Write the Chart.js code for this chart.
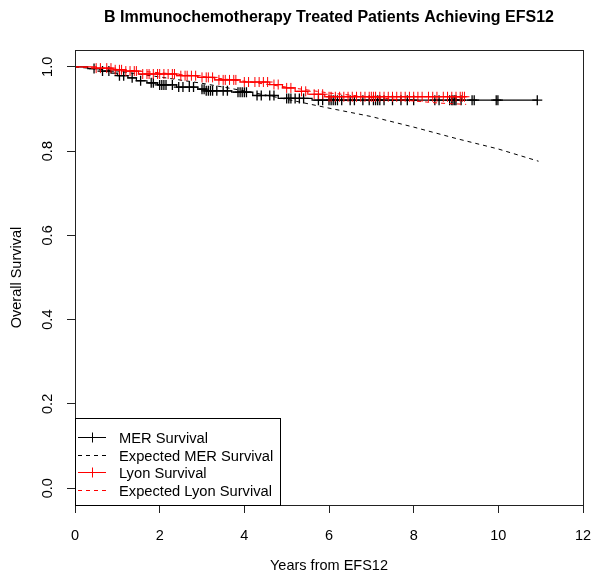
<!DOCTYPE html>
<html><head><meta charset="utf-8">
<script src="https://cdn.jsdelivr.net/npm/chart.js@4.4.1/dist/chart.umd.min.js"></script>
<style>html,body{margin:0;padding:0;background:#fff;} #wrap{width:602px;height:582px;position:relative;}</style>
</head><body><div id="wrap"><canvas id="c"></canvas></div>
<script>
const titleText = "B Immunochemotherapy Treated Patients Achieving EFS12";
const xTitle = "Years from EFS12";
const yTitle = "Overall Survival";
const xTicks = [0, 2, 4, 6, 8, 10, 12];
const yTicks = [0, 0.2, 0.4, 0.6, 0.8, 1.0];
const legendLabels = ["MER Survival", "Expected MER Survival", "Lyon Survival", "Expected Lyon Survival"];

// MER Kaplan-Meier (time of step, survival after step)
const merTime = [0, 0.3, 0.6, 0.85, 1.0, 1.25, 1.45, 1.7, 1.95, 2.4, 2.9, 3.1, 3.7, 4.2, 4.8, 5.6, 10.92];
const merSurv = [1.0, 0.996, 0.99, 0.985, 0.979, 0.974, 0.967, 0.962, 0.957, 0.952, 0.947, 0.943, 0.940, 0.932, 0.925, 0.921, 0.921];
const merCensor = [0.45, 0.65, 0.8, 1.05, 1.15, 1.35, 1.55, 1.8, 1.85, 2.0, 2.05, 2.1, 2.15, 2.3, 2.45, 2.55, 2.7, 2.8,
  3.0, 3.05, 3.1, 3.15, 3.2, 3.25, 3.35, 3.5, 3.6, 3.85, 3.9, 3.95, 4.0, 4.05, 4.3, 4.4, 4.6, 4.7, 5.0, 5.05, 5.1, 5.2, 5.3, 5.4,
  5.75, 5.85, 6.0, 6.05, 6.1, 6.15, 6.2, 6.3, 6.5, 6.6, 6.8, 6.95, 7.05, 7.1, 7.15, 7.2, 7.3, 7.5, 7.7, 7.85, 8.0, 8.5, 8.6,
  8.85, 8.9, 8.93, 8.97, 9.0, 9.12, 9.38, 9.43, 9.95, 9.99, 10.92];

// Lyon Kaplan-Meier
const lyonTime = [0, 0.5, 0.9, 1.2, 1.5, 2.4, 2.9, 3.3, 3.9, 4.6, 4.9, 5.2, 5.5, 5.9, 9.24];
const lyonSurv = [1.0, 0.997, 0.993, 0.99, 0.983, 0.979, 0.975, 0.969, 0.964, 0.958, 0.950, 0.942, 0.935, 0.929, 0.929];
const lyonCensor = [0.5, 0.6, 0.75, 0.85, 0.95, 1.05, 1.1, 1.2, 1.3, 1.4, 1.45, 1.6, 1.7, 1.75, 1.85, 1.95, 2.0, 2.1, 2.2,
  2.3, 2.35, 2.5, 2.6, 2.65, 2.75, 2.85, 3.0, 3.1, 3.15, 3.25, 3.4, 3.5, 3.55, 3.65, 3.75, 3.8, 4.0, 4.1, 4.25, 4.35, 4.45,
  4.55, 4.7, 4.8, 5.0, 5.1, 5.35, 5.45, 5.65, 5.75, 5.85, 6.0, 6.05, 6.15, 6.25, 6.35, 6.45, 6.55, 6.65, 6.75, 6.85, 6.95,
  7.0, 7.05, 7.1, 7.2, 7.3, 7.4, 7.5, 7.6, 7.7, 7.8, 7.9, 8.0, 8.1, 8.2, 8.35, 8.45, 8.55, 8.7, 8.8, 8.9, 9.0, 9.1, 9.15, 9.2];

// Expected survival curves
const expMerTime = [0, 1, 2, 3, 4, 5, 6, 7, 8, 9, 10, 10.95];
const expMerSurv = [1.0, 0.99, 0.976, 0.961, 0.943, 0.923, 0.902, 0.882, 0.857, 0.830, 0.805, 0.776];
const expLyonTime = [0, 1, 2, 3, 4, 5, 6, 7, 8, 8.6, 9.24];
const expLyonSurv = [1.0, 0.994, 0.986, 0.977, 0.966, 0.952, 0.938, 0.928, 0.919, 0.914, 0.911];

function survAt(times, survs, t) {
  let s = survs[0];
  for (let i = 0; i < times.length; i++) { if (times[i] <= t) s = survs[i]; }
  return s;
}
const pts = (xs, ys) => xs.map((x, i) => ({x: x, y: ys[i]}));
const cens = (cs, xs, ys) => cs.map(t => ({x: t, y: survAt(xs, ys, t)}));

const FONT = '"Liberation Sans", Arial, Helvetica, sans-serif';
const FS = 14.5;
Chart.defaults.font.family = FONT;
Chart.defaults.color = '#000';

const BLACK = '#000000', RED = '#ff0000', AXIS = '#222222';

const boxPlugin = {
  id: 'rbox',
  afterDraw(chart) {
    const ctx = chart.ctx, ca = chart.chartArea;
    ctx.save();
    ctx.strokeStyle = AXIS; ctx.lineWidth = 1;
    ctx.strokeRect(ca.left + 0.5, ca.top + 0.5, ca.right - ca.left, ca.bottom - ca.top);
    ctx.fillStyle = '#000';
    ctx.font = 'bold 16px ' + FONT;
    ctx.textAlign = 'center'; ctx.textBaseline = 'alphabetic';
    ctx.fillText(titleText, (ca.left + ca.right) / 2, 22);
    const bx = ca.left, bw = 205, bh = 87, by = ca.bottom - bh;
    ctx.fillStyle = '#fff';
    ctx.fillRect(bx + 1, by + 1, bw - 1, bh - 1);
    ctx.strokeStyle = '#000';
    ctx.strokeRect(bx + 0.5, by + 0.5, bw, bh);
    const colors = [BLACK, BLACK, RED, RED];
    const dashed = [false, true, false, true];
    ctx.font = '14.7px ' + FONT;
    ctx.textAlign = 'left';
    for (let i = 0; i < 4; i++) {
      const ry = Math.round(by + 19 + i * 17.6) + 0.5;
      ctx.strokeStyle = colors[i];
      ctx.lineWidth = 1;
      ctx.setLineDash(dashed[i] ? [4, 4] : []);
      ctx.beginPath(); ctx.moveTo(bx + 3, ry); ctx.lineTo(bx + 31, ry); ctx.stroke();
      ctx.setLineDash([]);
      if (!dashed[i]) {
        ctx.beginPath(); ctx.moveTo(bx + 17.5, ry - 5); ctx.lineTo(bx + 17.5, ry + 5); ctx.stroke();
      }
      ctx.fillStyle = '#000';
      ctx.fillText(legendLabels[i], bx + 44, ry + 5);
    }
    ctx.restore();
  }
};

new Chart(document.getElementById('c'), {
  type: 'scatter',
  data: {
    datasets: [
      {label: legendLabels[2], data: pts(lyonTime, lyonSurv), showLine: true, stepped: true, borderColor: RED, borderWidth: 1.2, pointRadius: 0, order: 0},
      {label: 'Lyon censored', data: cens(lyonCensor, lyonTime, lyonSurv), showLine: false, pointStyle: 'cross', pointRadius: 5, pointBorderWidth: 1, borderColor: RED, backgroundColor: RED, order: 1},
      {label: legendLabels[3], data: pts(expLyonTime, expLyonSurv), showLine: true, borderDash: [4, 4], borderColor: RED, borderWidth: 1, pointRadius: 0, tension: 0, order: 2},
      {label: legendLabels[0], data: pts(merTime, merSurv), showLine: true, stepped: true, borderColor: BLACK, borderWidth: 1.2, pointRadius: 0, order: 3},
      {label: 'MER censored', data: cens(merCensor, merTime, merSurv), showLine: false, pointStyle: 'cross', pointRadius: 5, pointBorderWidth: 1.3, borderColor: BLACK, backgroundColor: BLACK, order: 4},
      {label: legendLabels[1], data: pts(expMerTime, expMerSurv), showLine: true, borderDash: [4, 4], borderColor: BLACK, borderWidth: 1, pointRadius: 0, tension: 0, order: 5}
    ]
  },
  options: {
    responsive: true, maintainAspectRatio: false, animation: false, devicePixelRatio: 1,
    layout: {padding: {left: 0, right: 19, top: 50, bottom: 0}},
    plugins: {legend: {display: false}, tooltip: {enabled: false}, title: {display: false}},
    scales: {
      x: {
        type: 'linear', min: 0, max: 12,
        afterBuildTicks: s => { s.ticks = xTicks.map(v => ({value: v})); },
        ticks: {font: {size: FS}, color: '#000', padding: 14, maxRotation: 0, autoSkip: false, callback: v => String(v)},
        grid: {display: true, drawOnChartArea: false, drawTicks: true, tickLength: 8, color: AXIS},
        border: {display: true, color: AXIS, width: 1},
        title: {display: true, text: xTitle, font: {size: FS}, color: '#000', padding: {top: 0, bottom: 7}},
        afterFit: s => { s.height = 77; s.paddingLeft = 0; s.paddingRight = 0; }
      },
      y: {
        type: 'linear', min: -0.04, max: 1.04,
        afterBuildTicks: s => { s.ticks = yTicks.map(v => ({value: v})); },
        ticks: {font: {size: FS}, color: '#000', padding: 9, minRotation: 90, maxRotation: 90, crossAlign: 'center', autoSkip: false, callback: v => Number(v).toFixed(1)},
        grid: {display: true, drawOnChartArea: false, drawTicks: true, tickLength: 8, color: AXIS},
        border: {display: true, color: AXIS, width: 1},
        title: {display: true, text: yTitle, font: {size: FS}, color: '#000', padding: {top: 8, bottom: 0}},
        afterFit: s => { s.width = 75; s.paddingTop = 0; s.paddingBottom = 0; }
      }
    }
  },
  plugins: [boxPlugin]
});
</script>
</body></html>
